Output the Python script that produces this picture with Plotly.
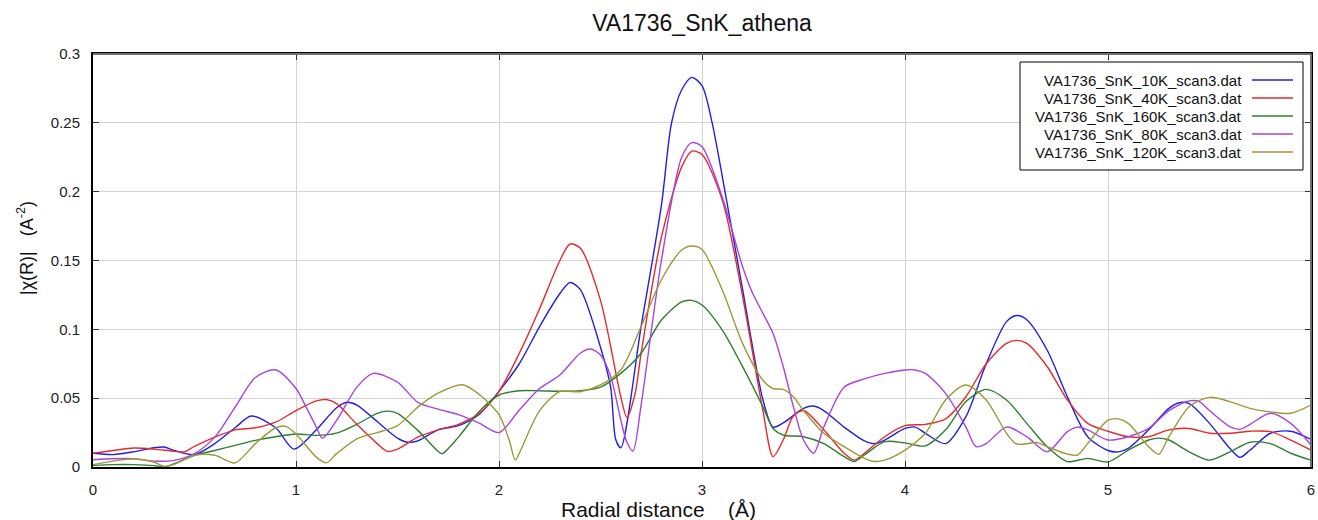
import plotly.graph_objects as go

# ---- data ----
r_10k = [0, 0.1, 0.2, 0.3, 0.35, 0.4, 0.5, 0.6, 0.7, 0.78, 0.9, 0.99, 1.1, 1.2, 1.25, 1.3, 1.4, 1.5, 1.55, 1.6, 1.7, 1.8, 1.9, 2.0,
         2.1, 2.2, 2.3, 2.35, 2.4, 2.5, 2.55, 2.575, 2.6, 2.7, 2.8, 2.85, 2.9, 2.95, 3.0, 3.05, 3.1, 3.2, 3.3, 3.35, 3.4,
         3.5, 3.55, 3.6, 3.7, 3.8, 3.85, 3.9, 4.0, 4.05, 4.1, 4.2, 4.3, 4.4, 4.5, 4.55, 4.6, 4.7, 4.8, 4.9, 5.0, 5.05,
         5.1, 5.2, 5.3, 5.35, 5.4, 5.5, 5.6, 5.65, 5.7, 5.8, 5.9, 6.0]
chi_10k = [0.010, 0.009, 0.011, 0.014, 0.0145, 0.012, 0.009, 0.017, 0.0285, 0.037, 0.0285, 0.013, 0.027, 0.043, 0.047, 0.045, 0.033, 0.021, 0.018, 0.019, 0.027, 0.030, 0.038, 0.055,
           0.075, 0.102, 0.126, 0.134, 0.129, 0.087, 0.058, 0.020, 0.014, 0.102, 0.19, 0.25, 0.274, 0.283, 0.277, 0.25, 0.211, 0.129, 0.049, 0.029, 0.032,
           0.0426, 0.0443, 0.041, 0.029, 0.019, 0.017, 0.0196, 0.028, 0.029, 0.0245, 0.017, 0.0366, 0.075, 0.1056, 0.110, 0.107, 0.085, 0.051, 0.022, 0.012, 0.011,
           0.0136, 0.027, 0.0426, 0.0467, 0.046, 0.0317, 0.0136, 0.007, 0.0123, 0.0245, 0.026, 0.020]

r_40k = [0, 0.1, 0.2, 0.3, 0.4, 0.45, 0.5, 0.6, 0.7, 0.8, 0.9, 1.0, 1.1, 1.15, 1.2, 1.3, 1.4, 1.45, 1.5, 1.6, 1.7, 1.8, 1.9, 2.0,
         2.1, 2.2, 2.3, 2.35, 2.4, 2.5, 2.6, 2.63, 2.67, 2.7, 2.8, 2.9, 2.95, 3.0, 3.1, 3.2, 3.3, 3.35, 3.4, 3.45, 3.5,
         3.6, 3.7, 3.75, 3.8, 3.9, 4.0, 4.1, 4.2, 4.3, 4.4, 4.5, 4.55, 4.6, 4.7, 4.8, 4.9, 5.0, 5.1, 5.2, 5.3, 5.4,
         5.5, 5.6, 5.7, 5.8, 5.9, 6.0]
chi_40k = [0.010, 0.012, 0.0138, 0.013, 0.0114, 0.011, 0.015, 0.0217, 0.027, 0.0285, 0.0326, 0.041, 0.048, 0.049, 0.046, 0.031, 0.017, 0.0114, 0.013, 0.0217, 0.027, 0.031, 0.0386, 0.055,
           0.0826, 0.115, 0.150, 0.162, 0.159, 0.121, 0.051, 0.036, 0.053, 0.0826, 0.167, 0.218, 0.2295, 0.227, 0.194, 0.124, 0.041, 0.0075, 0.0196, 0.037, 0.041,
           0.027, 0.010, 0.005, 0.010, 0.022, 0.030, 0.031, 0.035, 0.051, 0.075, 0.0898, 0.092, 0.0898, 0.073, 0.0487, 0.0317, 0.026, 0.022, 0.022, 0.027, 0.028,
           0.0245, 0.0245, 0.026, 0.0257, 0.0196, 0.0123]

r_160k = [0, 0.1, 0.2, 0.3, 0.35, 0.4, 0.5, 0.6, 0.7, 0.8, 0.9, 1.0, 1.1, 1.2, 1.3, 1.4, 1.45, 1.5, 1.6, 1.7, 1.72, 1.8, 1.9, 2.0,
          2.1, 2.2, 2.3, 2.4, 2.5, 2.6, 2.7, 2.8, 2.9, 2.95, 3.0, 3.1, 3.2, 3.3, 3.35, 3.4, 3.5, 3.6, 3.7, 3.75, 3.8, 3.9,
          4.0, 4.1, 4.2, 4.3, 4.4, 4.5, 4.6, 4.7, 4.8, 4.9, 5.0, 5.1, 5.2, 5.25, 5.3, 5.4, 5.5, 5.6, 5.7, 5.8, 5.9, 6.0]
chi_160k = [0.0012, 0.0017, 0.0017, 0.001, 0.0, 0.0024, 0.0085, 0.012, 0.0157, 0.0193, 0.022, 0.024, 0.023, 0.0246, 0.031, 0.039, 0.0406, 0.039, 0.0266, 0.0114, 0.0097, 0.0217, 0.040, 0.0523,
            0.0554, 0.0554, 0.055, 0.0554, 0.058, 0.068, 0.0826, 0.1068, 0.120, 0.121, 0.1177, 0.0995, 0.0729, 0.0438, 0.028, 0.0232, 0.022, 0.017, 0.0075, 0.004, 0.0087, 0.0184,
            0.0175, 0.0153, 0.027, 0.0475, 0.0564, 0.0487, 0.0317, 0.0148, 0.0039, 0.0063, 0.0037, 0.0123, 0.0196, 0.021, 0.0196, 0.011, 0.005, 0.011, 0.018, 0.017, 0.010, 0.005]

r_80k = [0, 0.1, 0.2, 0.3, 0.4, 0.5, 0.6, 0.7, 0.8, 0.9, 1.0, 1.05, 1.1, 1.13, 1.2, 1.3, 1.38, 1.5, 1.6, 1.7, 1.8, 1.9, 2.0,
         2.1, 2.2, 2.3, 2.4, 2.45, 2.5, 2.55, 2.6, 2.63, 2.66, 2.7, 2.8, 2.9, 2.95, 3.0, 3.1, 3.2, 3.25, 3.3, 3.35, 3.4,
         3.45, 3.5, 3.55, 3.6, 3.7, 3.8, 3.9, 4.0, 4.05, 4.1, 4.2, 4.3, 4.35, 4.4, 4.5, 4.6, 4.7, 4.8, 4.85, 4.9, 5.0,
         5.1, 5.2, 5.3, 5.4, 5.45, 5.5, 5.6, 5.65, 5.7, 5.8, 5.9, 6.0]
chi_80k = [0.0053, 0.006, 0.006, 0.0043, 0.0048, 0.0097, 0.0217, 0.0435, 0.065, 0.0705, 0.057, 0.0435, 0.029, 0.021, 0.0338, 0.058, 0.068, 0.0616, 0.047, 0.042, 0.038, 0.032, 0.025,
           0.0414, 0.057, 0.0668, 0.0826, 0.0857, 0.0814, 0.066, 0.034, 0.018, 0.0116, 0.045, 0.150, 0.225, 0.2356, 0.2327, 0.196, 0.1455, 0.126, 0.1116, 0.097, 0.073,
           0.044, 0.0196, 0.010, 0.029, 0.058, 0.064, 0.068, 0.0705, 0.0705, 0.068, 0.0535, 0.029, 0.0148, 0.017, 0.029, 0.022, 0.011, 0.0257, 0.029, 0.027, 0.0196,
           0.022, 0.028, 0.041, 0.048, 0.0475, 0.041, 0.0293, 0.0274, 0.031, 0.039, 0.0317, 0.016]

r_120k = [0, 0.1, 0.2, 0.3, 0.35, 0.4, 0.5, 0.6, 0.7, 0.8, 0.9, 0.95, 1.0, 1.1, 1.15, 1.2, 1.3, 1.4, 1.5, 1.6, 1.7, 1.82, 1.9, 2.0,
          2.05, 2.08, 2.1, 2.2, 2.3, 2.4, 2.5, 2.6, 2.7, 2.8, 2.9, 2.95, 3.0, 3.1, 3.2, 3.3, 3.35, 3.4, 3.45, 3.5, 3.6,
          3.7, 3.8, 3.85, 3.9, 4.0, 4.1, 4.2, 4.3, 4.4, 4.5, 4.55, 4.65, 4.7, 4.8, 4.85, 4.9, 5.0, 5.05, 5.1, 5.2, 5.25,
          5.3, 5.4, 5.5, 5.6, 5.7, 5.8, 5.9, 6.0]
chi_120k = [0.0017, 0.0043, 0.006, 0.0036, 0.0005, 0.002, 0.0085, 0.0085, 0.003, 0.017, 0.0285, 0.0295, 0.024, 0.0072, 0.003, 0.0097, 0.0205, 0.025, 0.030, 0.0435, 0.0536, 0.0597, 0.053, 0.038,
            0.0196, 0.005, 0.010, 0.041, 0.0547, 0.0547, 0.0596, 0.0705, 0.102, 0.136, 0.1576, 0.1605, 0.158, 0.1286, 0.0898, 0.063, 0.057, 0.0564, 0.051, 0.041, 0.0245,
            0.0148, 0.0063, 0.004, 0.005, 0.0123, 0.0245, 0.0487, 0.0596, 0.0487, 0.0245, 0.0167, 0.0177, 0.0148, 0.0094, 0.0087, 0.017, 0.034, 0.035, 0.0317, 0.0148, 0.0092,
            0.022, 0.0438, 0.0506, 0.0475, 0.0426, 0.040, 0.039, 0.045]

series_names = ["VA1736_SnK_10K_scan3.dat", "VA1736_SnK_40K_scan3.dat", "VA1736_SnK_160K_scan3.dat",
                "VA1736_SnK_80K_scan3.dat", "VA1736_SnK_120K_scan3.dat"]
series_x = [r_10k, r_40k, r_160k, r_80k, r_120k]
series_y = [chi_10k, chi_40k, chi_160k, chi_80k, chi_120k]
series_colors = ["#2020e0", "#e52b2b", "#2f7f2f", "#a843e0", "#9a9a3a"]

x_ticks = [0, 1, 2, 3, 4, 5, 6]
y_ticks = [0, 0.05, 0.1, 0.15, 0.2, 0.25, 0.3]
y_tick_text = ["0", "0.05", "0.1", "0.15", "0.2", "0.25", "0.3"]

chart_title = "VA1736_SnK_athena"
x_title = "Radial distance\u00a0\u00a0\u00a0\u00a0(Å)"
y_title = "|χ(R)|\u00a0\u00a0\u00a0(A<sup>-2</sup>)"

FONT = "Arial, Liberation Sans, sans-serif"
W, H = 1318, 520
ML, MR, MT, MB = 93, 7, 54, 53
PW, PH = W - ML - MR, H - MT - MB


def px_to_paper_x(px):
    return (px - ML) / PW


def py_to_paper_y(py):
    return (H - MB - py) / PH


fig = go.Figure()
for name, xs, ys, col in zip(series_names, series_x, series_y, series_colors):
    fig.add_trace(go.Scatter(x=xs, y=ys, mode="lines", name=name, showlegend=False,
                             line=dict(color=col, width=1.4, shape="spline", smoothing=0.8)))

fig.update_layout(
    width=W, height=H,
    margin=dict(l=ML, r=MR, t=MT, b=MB, autoexpand=False),
    paper_bgcolor="white", plot_bgcolor="white",
    font=dict(family=FONT, color="#222", size=15),
    title=dict(text=chart_title, xref="paper", x=0.5, xanchor="center", y=1 - 23 / H, yanchor="middle",
               font=dict(size=23, color="#111", family=FONT)),
    showlegend=False,
)
fig.update_xaxes(range=[0, 6], tickvals=x_ticks, ticktext=[str(v) for v in x_ticks],
                 showgrid=True, gridcolor="#d4d4d4", gridwidth=1, zeroline=False,
                 showline=True, linecolor="black", linewidth=2, mirror="ticks",
                 ticks="inside", ticklen=6, tickcolor="#333", ticklabelstandoff=8,
                 ticklabeloverflow="allow", automargin=False,
                 tickfont=dict(size=15, color="#222"))
fig.update_yaxes(range=[0, 0.3], tickvals=y_ticks, ticktext=y_tick_text,
                 showgrid=True, gridcolor="#d4d4d4", gridwidth=1, zeroline=False,
                 showline=True, linecolor="black", linewidth=2, mirror="ticks",
                 ticks="inside", ticklen=6, tickcolor="#333", ticklabelstandoff=8,
                 ticklabeloverflow="allow", automargin=False,
                 tickfont=dict(size=15, color="#222"))

# grey frame on top and right, as in the reference
fig.add_shape(type="line", xref="paper", yref="paper", x0=0, x1=1, y0=1, y1=1,
              line=dict(color="#707070", width=2), layer="above")
fig.add_shape(type="line", xref="paper", yref="paper", x0=1, x1=1, y0=0, y1=1,
              line=dict(color="#707070", width=2), layer="above")

# axis titles
fig.add_annotation(text=x_title, xref="paper", yref="paper", x=px_to_paper_x(658), y=py_to_paper_y(509),
                   xanchor="center", yanchor="middle", showarrow=False,
                   font=dict(size=21, color="#111", family=FONT))
fig.add_annotation(text=y_title, xref="paper", yref="paper", x=px_to_paper_x(25), y=py_to_paper_y(248),
                   xanchor="center", yanchor="middle", showarrow=False, textangle=-90,
                   font=dict(size=18, color="#111", family=FONT))

# legend box (text on the left, line sample on the right, as in the reference)
fig.add_shape(type="rect", xref="paper", yref="paper",
              x0=px_to_paper_x(1020), x1=px_to_paper_x(1303), y0=py_to_paper_y(170), y1=py_to_paper_y(62),
              line=dict(color="black", width=1), fillcolor="white", layer="above")
row_py = [80, 98, 116, 134, 152]
for name, col, ry in zip(series_names, series_colors, row_py):
    fig.add_annotation(text=name, xref="paper", yref="paper", x=px_to_paper_x(1244), y=py_to_paper_y(ry),
                       xanchor="right", yanchor="middle", showarrow=False,
                       font=dict(size=15, color="#111", family=FONT))
    fig.add_shape(type="line", xref="paper", yref="paper",
                  x0=px_to_paper_x(1252), x1=px_to_paper_x(1293), y0=py_to_paper_y(ry), y1=py_to_paper_y(ry),
                  line=dict(color=col, width=1.4), layer="above")

# remove the browser's default 8px body margin so the figure sits at the page origin
fig.write_html("out.html", config={"displayModeBar": False},
               post_script="document.body.style.margin='0';document.body.style.overflow='hidden';")
